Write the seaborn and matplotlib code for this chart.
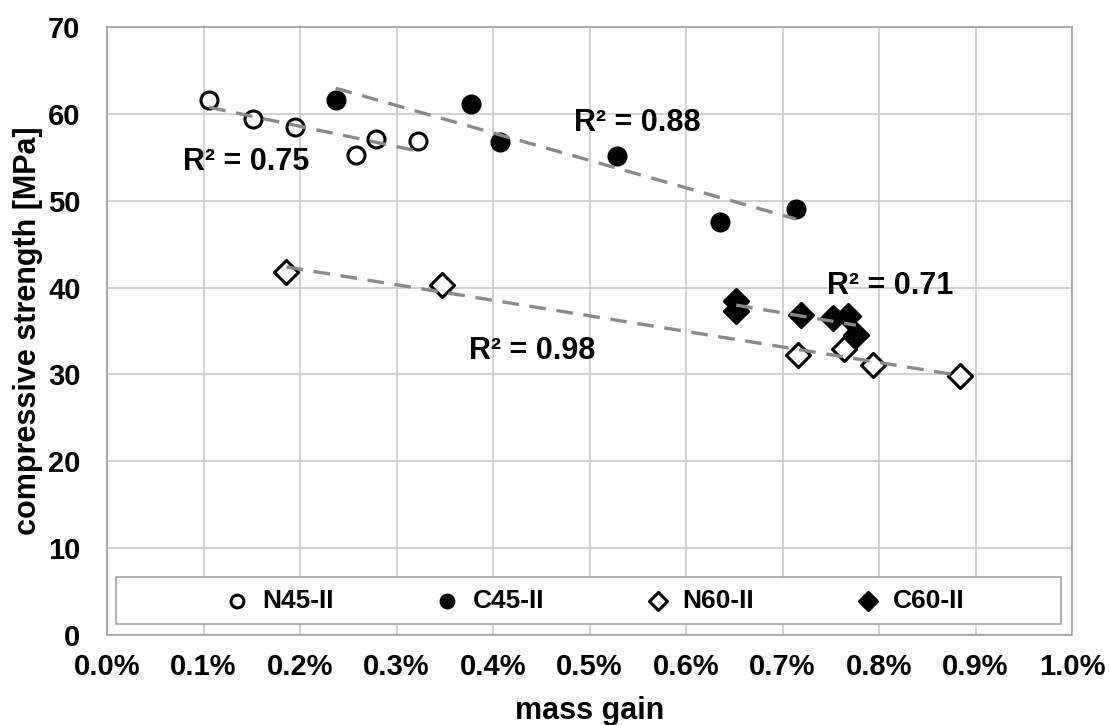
import matplotlib
matplotlib.use("Agg")
import matplotlib.pyplot as plt
from matplotlib.patches import Rectangle
from matplotlib.ticker import FuncFormatter, MultipleLocator
import seaborn as sns
import numpy as np

# ---- data (mass gain in %, compressive strength in MPa) ----
n45_x = [0.106, 0.151, 0.195, 0.258, 0.279, 0.322]
n45_y = [61.6, 59.4, 58.5, 55.3, 57.1, 56.9]
c45_x = [0.237, 0.377, 0.407, 0.528, 0.635, 0.714]
c45_y = [61.6, 61.1, 56.8, 55.1, 47.5, 49.0]
n60_x = [0.186, 0.347, 0.716, 0.764, 0.794, 0.884]
n60_y = [41.8, 40.3, 32.2, 32.9, 31.1, 29.8]
c60_x = [0.652, 0.652, 0.719, 0.752, 0.768, 0.776]
c60_y = [38.5, 37.3, 36.8, 36.5, 36.7, 34.5]

series_names = ["N45-II", "C45-II", "N60-II", "C60-II"]
r2_labels = ["R² = 0.75", "R² = 0.88", "R² = 0.98", "R² = 0.71"]
r2_pos = [(0.144, 54.4), (0.550, 59.0), (0.441, 32.7), (0.812, 40.2)]

sns.set_style("white")
plt.rcParams["font.family"] = ["Liberation Sans", "DejaVu Sans"]
plt.rcParams["font.weight"] = "bold"
plt.rcParams["text.color"] = "black"
plt.rcParams["axes.labelcolor"] = "black"
plt.rcParams["xtick.color"] = "black"
plt.rcParams["ytick.color"] = "black"

fig = plt.figure(figsize=(11.09, 7.25), dpi=100)
ax = fig.add_axes([107 / 1109, 1 - 635 / 725, 965 / 1109, 608 / 725])

series = [
    (n45_x, n45_y, "o", "white"),
    (c45_x, c45_y, "o", "black"),
    (n60_x, n60_y, "D", "white"),
    (c60_x, c60_y, "D", "black"),
]

handles = []
for (xs, ys, mk, fc), name in zip(series, series_names):
    sns.scatterplot(x=xs, y=ys, marker=mk, s=150, color=fc, edgecolor="black",
                    linewidth=2.2, ax=ax, zorder=3, label=name, legend=False)
    handles.append(ax.collections[-1])

for xs, ys, _, _ in series:
    sns.regplot(x=xs, y=ys, scatter=False, ci=None, truncate=True, ax=ax,
                line_kws=dict(color="#8a8a8a", lw=2.4, ls=(0, (5, 3.2)), zorder=4))

for txt, (tx, ty) in zip(r2_labels, r2_pos):
    ax.text(tx, ty, txt, ha="center", va="center", fontsize=22,
            fontweight="bold", color="black", zorder=6)

ax.set_xlim(0, 1.0)
ax.set_ylim(0, 70)
ax.xaxis.set_major_locator(MultipleLocator(0.1))
ax.yaxis.set_major_locator(MultipleLocator(10))
ax.xaxis.set_major_formatter(FuncFormatter(lambda v, p: f"{v:.1f}%"))
ax.yaxis.set_major_formatter(FuncFormatter(lambda v, p: f"{v:.0f}"))
ax.grid(True, color="#c6c6c6", lw=1.1)
ax.set_axisbelow(True)
for sp in ax.spines.values():
    sp.set_visible(True)
    sp.set_color("#9a9a9a")
    sp.set_linewidth(1.1)
ax.tick_params(axis="x", length=0, pad=13, labelsize=21, colors="black")
ax.tick_params(axis="y", length=0, pad=19, labelsize=21, colors="black")
for lab in ax.get_xticklabels() + ax.get_yticklabels():
    lab.set_fontweight("bold")

ax.set_xlabel("mass gain", fontsize=22, fontweight="bold", color="black")
ax.set_ylabel("compressive strength [MPa]", fontsize=22, fontweight="bold", color="black")
ax.xaxis.set_label_coords(0.5, -0.100)
ax.yaxis.set_label_coords(-0.066, 0.5)

# legend box
ax.add_patch(Rectangle((0.0093, 0.018), 0.979, 0.077, transform=ax.transAxes,
                       facecolor="white", edgecolor="#9a9a9a", lw=1.1, zorder=7))
leg = ax.legend(handles, series_names, loc="center", bbox_to_anchor=(0.505, 0.0567),
                ncol=4, frameon=False, prop=dict(size=19, weight="bold"),
                handlelength=1.0, handletextpad=0.45, columnspacing=3.8,
                markerscale=0.75)
for t in leg.get_texts():
    t.set_color("black")
leg.set_zorder(8)

fig.savefig("out.png", dpi=100)
